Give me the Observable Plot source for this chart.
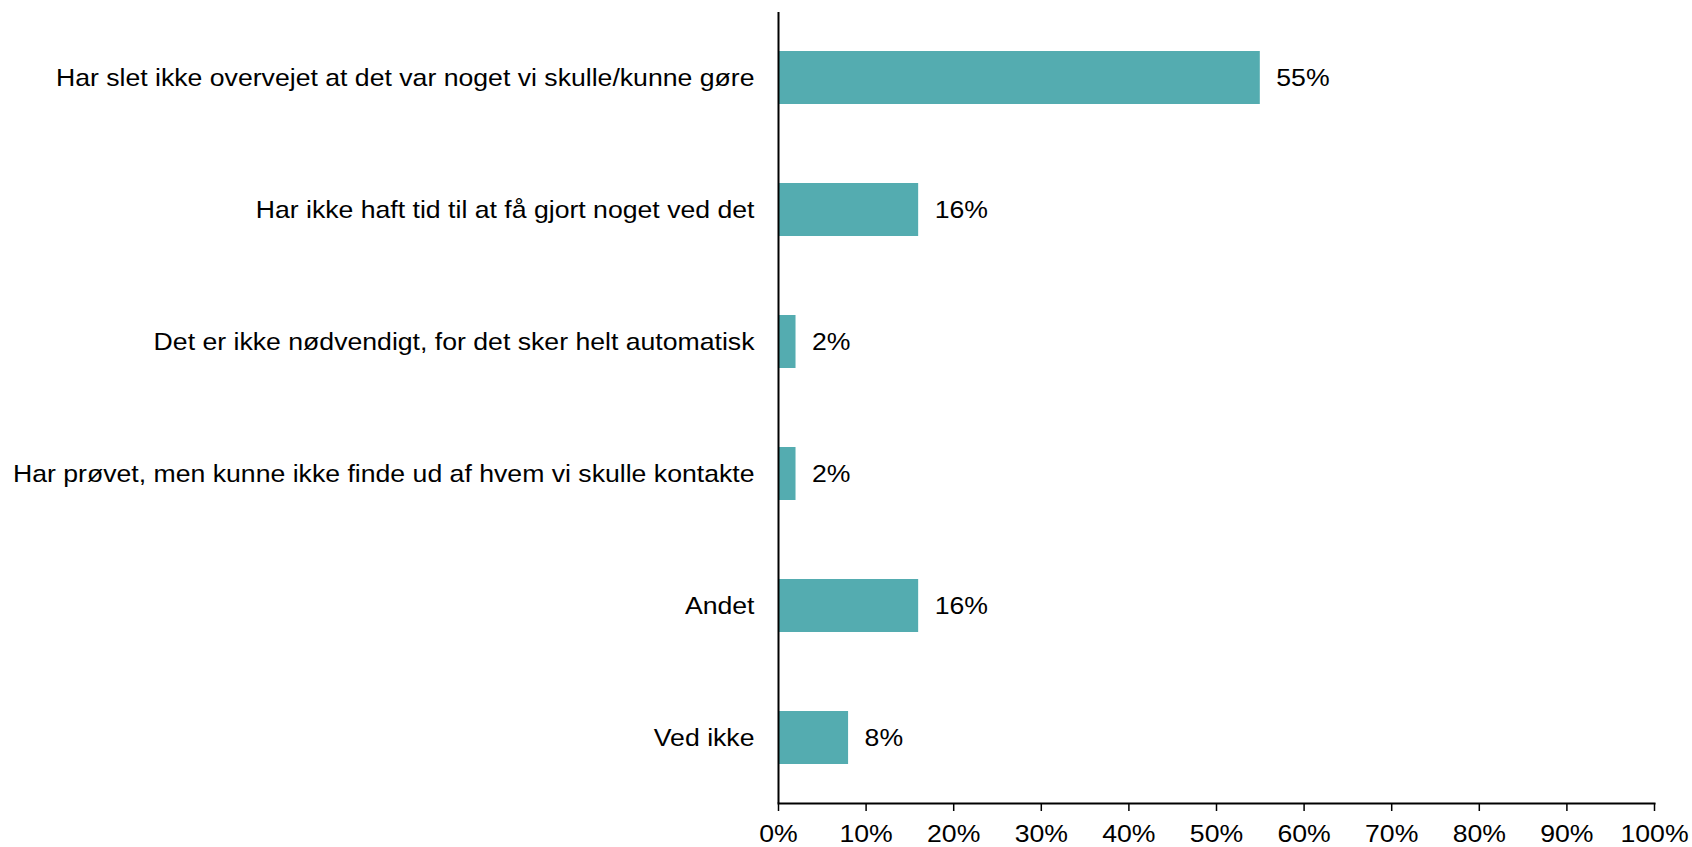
<!DOCTYPE html>
<html>
<head>
<meta charset="utf-8">
<script src="https://cdn.jsdelivr.net/npm/d3@7"></script>
<script src="https://cdn.jsdelivr.net/npm/@observablehq/plot@0.6"></script>
<style>
  html, body { margin: 0; padding: 0; background: #ffffff; }
  #chart svg { display: block; }
</style>
</head>
<body>
<div id="chart"></div>
<script>
const categories = [
  "Har slet ikke overvejet at det var noget vi skulle/kunne gøre",
  "Har ikke haft tid til at få gjort noget ved det",
  "Det er ikke nødvendigt, for det sker helt automatisk",
  "Har prøvet, men kunne ikke finde ud af hvem vi skulle kontakte",
  "Andet",
  "Ved ikke"
];
const values = [55, 16, 2, 2, 16, 8];
const xTicks = [0, 10, 20, 30, 40, 50, 60, 70, 80, 90, 100];

const data = categories.map((c, i) => ({category: c, value: values[i]}));

const chart = Plot.plot({
  width: 1692,
  height: 847,
  marginTop: 12,
  marginBottom: 44,
  marginLeft: 778,
  marginRight: 38,
  style: {fontFamily: "'Liberation Sans', Arial, sans-serif", fontSize: "24px", color: "#000", background: "#fff"},
  x: {domain: [0, 100], ticks: xTicks},
  y: {domain: categories, paddingInner: 0.6, paddingOuter: 0.29},
  marks: [
    Plot.barX(data, {x: "value", y: "category", fill: "#54ACB0"}),
    Plot.text(data, {x: "value", y: "category", text: d => d.value + "%", textAnchor: "start", dx: 16, fill: "#000", fontSize: 24}),
    Plot.axisX({ticks: xTicks, tickFormat: d => d + "%", tickSize: 8, tickPadding: 13, stroke: "#000", strokeWidth: 1.5, fontSize: 24, label: null, strokeOpacity: 1}),
    Plot.axisY({tickSize: 0, tickPadding: 24, fontSize: 24, label: null}),
    Plot.ruleX([0], {stroke: "#000", strokeWidth: 2}),
    Plot.frame({anchor: "bottom", stroke: "#000", strokeWidth: 2})
  ]
});

// The reference text is horizontally wider than plain 24px Arial; stretch each label about its anchor.
const stretch = 1.11;
d3.select(chart).selectAll("text").each(function() {
  const t = this;
  const tr = t.getAttribute("transform");
  if (tr) {
    t.setAttribute("transform", tr + ` scale(${stretch},1)`);
  } else {
    const x = +(t.getAttribute("x") || 0), y = +(t.getAttribute("y") || 0);
    t.setAttribute("x", 0); t.setAttribute("y", 0);
    t.setAttribute("transform", `translate(${x},${y}) scale(${stretch},1)`);
  }
});

document.getElementById("chart").appendChild(chart);
</script>
</body>
</html>
